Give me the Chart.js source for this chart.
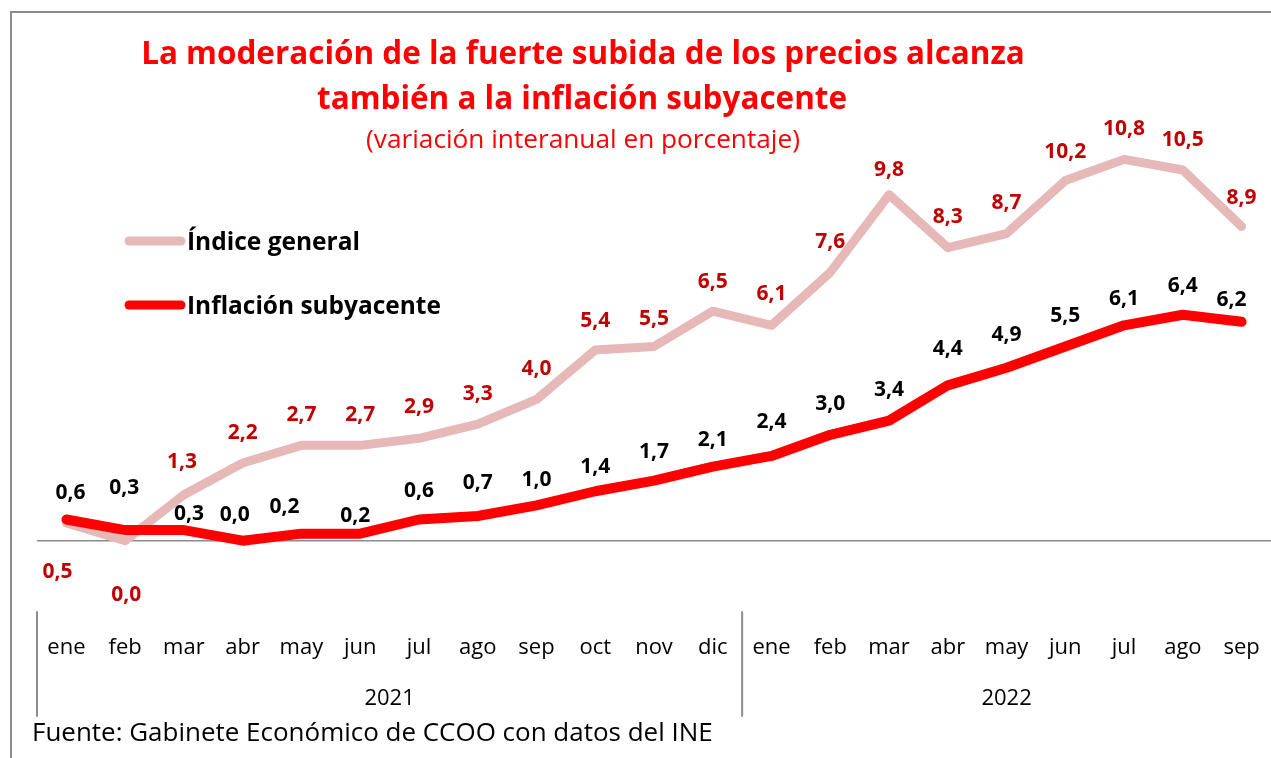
<!DOCTYPE html>
<html>
<head>
<meta charset="utf-8">
<script src="https://cdn.jsdelivr.net/npm/chart.js@4.4.0/dist/chart.umd.min.js"></script>
<style>
  html, body { margin: 0; padding: 0; background: #fff; }
  #wrap { width: 1271px; height: 758px; }
</style>
</head>
<body>
<div id="wrap"><canvas id="mycanvas" width="1271" height="758"></canvas></div>
<script>
// datos
var months = ['ene','feb','mar','abr','may','jun','jul','ago','sep','oct','nov','dic',
              'ene','feb','mar','abr','may','jun','jul','ago','sep'];
var years = ['2021', '2022'];
var yearFirst = [0, 12];
var yearLast = [11, 20];
var indiceGeneral = [0.5, 0.0, 1.3, 2.2, 2.7, 2.7, 2.9, 3.3, 4.0, 5.4, 5.5, 6.5,
                     6.1, 7.6, 9.8, 8.3, 8.7, 10.2, 10.8, 10.5, 8.9];
var subyacente = [0.6, 0.3, 0.3, 0.0, 0.2, 0.2, 0.6, 0.7, 1.0, 1.4, 1.7, 2.1,
                  2.4, 3.0, 3.4, 4.4, 4.9, 5.5, 6.1, 6.4, 6.2];

// label offsets (dx, dy) from each point
var offGeneral = [[-9,49],[1,54],[-2,-33],[0,-30],[0,-30],[0,-30],[0,-31],[0,-30],[0,-30],[0,-29],
                  [0,-27],[0,-29],[0,-31],[0,-30],[0,-25],[0,-31],[0,-30],[0,-29],[0,-30],[0,-30],[0,-28]];
var offSub = [[4,-26],[-1,-42],[5,-16],[-8,-26],[-17,-27],[-5,-18],[0,-28],[0,-33],[0,-25],[0,-24],
              [0,-29],[0,-27],[0,-34],[0,-31],[0,-31],[0,-36],[0,-33],[0,-30],[0,-26],[0,-29],[-10,-22]];

var PINK = '#E6B9B8';
var RED = '#FF0000';
var DARKRED = '#C00000';
var FONT = '"Open Sans", "Noto Sans", "DejaVu Sans", sans-serif';

function fmt(v){ return v.toFixed(1).replace('.', ','); }

// pick a font size so the text spans the given width
function fitText(ctx, text, weight, target){
  ctx.font = weight + ' 20px ' + FONT;
  var w = ctx.measureText(text).width;
  var size = 20 * target / w;
  ctx.font = weight + ' ' + size.toFixed(2) + 'px ' + FONT;
}

var decor = {
  id: 'decor',
  beforeDatasetsDraw: function(chart){
    var ctx = chart.ctx, y = chart.scales.y;
    var area = chart.chartArea;
    ctx.save();
    // frame
    ctx.strokeStyle = '#8c8c8c';
    ctx.lineWidth = 2;
    ctx.beginPath();
    ctx.moveTo(11, 800); ctx.lineTo(11, 12); ctx.lineTo(1300, 12);
    ctx.stroke();
    // axis line at zero
    var y0 = y.getPixelForValue(0);
    ctx.lineWidth = 1.5;
    ctx.beginPath();
    ctx.moveTo(area.left, y0); ctx.lineTo(area.right, y0);
    ctx.stroke();
    ctx.restore();
  },
  afterDraw: function(chart){
    var ctx = chart.ctx, x = chart.scales.x;
    var step = x.getPixelForValue(1) - x.getPixelForValue(0);
    ctx.save();
    ctx.textBaseline = 'middle';
    ctx.textAlign = 'center';

    // title
    ctx.fillStyle = RED;
    fitText(ctx, 'La moderación de la fuerte subida de los precios alcanza', 'bold', 884);
    ctx.fillText('La moderación de la fuerte subida de los precios alcanza', 583, 55);
    fitText(ctx, 'también a la inflación subyacente', 'bold', 530);
    ctx.fillText('también a la inflación subyacente', 582, 100);
    fitText(ctx, '(variación interanual en porcentaje)', 'normal', 434);
    ctx.fillText('(variación interanual en porcentaje)', 583, 141);

    // legend
    var legendRows = [
      {text: 'Índice general', color: PINK, y: 241, tw: 173},
      {text: 'Inflación subyacente', color: RED, y: 305, tw: 254}
    ];
    legendRows.forEach(function(r){
      ctx.strokeStyle = r.color;
      ctx.lineWidth = 9;
      ctx.lineCap = 'round';
      ctx.beginPath();
      ctx.moveTo(129, r.y); ctx.lineTo(181, r.y);
      ctx.stroke();
      ctx.fillStyle = '#000';
      ctx.textAlign = 'left';
      fitText(ctx, r.text, 'bold', r.tw);
      ctx.fillText(r.text, 187, r.y + 2);
    });

    // data labels
    ctx.textAlign = 'center';
    ctx.font = 'bold 21px ' + FONT;
    var m0 = chart.getDatasetMeta(0), m1 = chart.getDatasetMeta(1);
    m0.data.forEach(function(pt, i){
      ctx.fillStyle = DARKRED;
      ctx.fillText(fmt(indiceGeneral[i]), pt.x + offGeneral[i][0], pt.y + offGeneral[i][1]);
    });
    m1.data.forEach(function(pt, i){
      ctx.fillStyle = '#000';
      ctx.fillText(fmt(subyacente[i]), pt.x + offSub[i][0], pt.y + offSub[i][1]);
    });

    // month labels
    ctx.font = '22px ' + FONT;
    ctx.fillStyle = '#000';
    months.forEach(function(m, i){
      ctx.fillText(m, x.getPixelForValue(i), 648);
    });
    // years + separators
    ctx.strokeStyle = '#8c8c8c';
    ctx.lineWidth = 2;
    years.forEach(function(yr, k){
      var a = x.getPixelForValue(yearFirst[k]), b = x.getPixelForValue(yearLast[k]);
      ctx.fillText(yr, (a + b) / 2, 699);
      var sx = a - step / 2;
      ctx.beginPath();
      ctx.moveTo(sx, 612); ctx.lineTo(sx, 716);
      ctx.stroke();
    });

    // source
    ctx.textAlign = 'left';
    fitText(ctx, 'Fuente: Gabinete Económico de CCOO con datos del INE', 'normal', 681);
    ctx.fillText('Fuente: Gabinete Económico de CCOO con datos del INE', 32, 734);
    ctx.restore();
  }
};

var ctx = document.getElementById('mycanvas');
var chart = new Chart(ctx, {
  type: 'line',
  data: {
    labels: months,
    datasets: [
      {
        label: 'Índice general',
        data: indiceGeneral,
        borderColor: PINK,
        borderWidth: 9,
        pointRadius: 0,
        tension: 0,
        borderCapStyle: 'round',
        borderJoinStyle: 'round',
        order: 2
      },
      {
        label: 'Inflación subyacente',
        data: subyacente,
        borderColor: RED,
        borderWidth: 10,
        pointRadius: 0,
        tension: 0,
        borderCapStyle: 'round',
        borderJoinStyle: 'round',
        order: 1
      }
    ]
  },
  options: {
    responsive: false,
    animation: false,
    layout: { padding: { top: 117, bottom: 182, left: 37, right: 0 } },
    plugins: { legend: { display: false }, tooltip: { enabled: false }, title: { display: false } },
    scales: {
      x: { display: false, offset: true },
      y: { display: false, min: -1, max: 12 }
    }
  },
  plugins: [decor]
});
</script>
</body>
</html>
